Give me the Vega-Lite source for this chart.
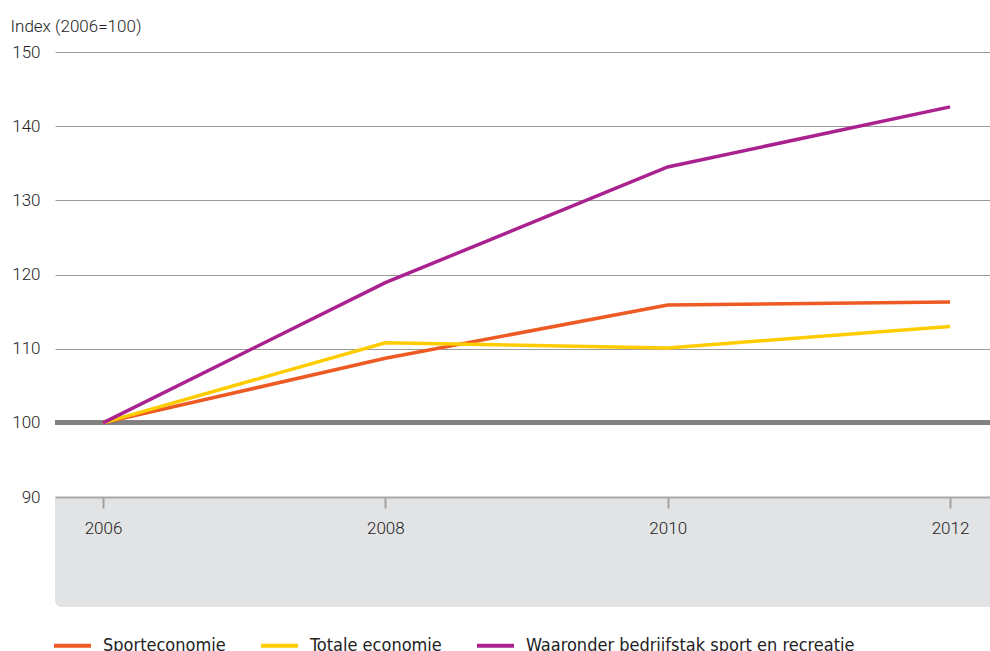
{
  "$schema": "https://vega.github.io/schema/vega-lite/v6.json",
  "width": 935,
  "height": 555,
  "autosize": "none",
  "padding": {"left": 55, "top": 52, "right": 0, "bottom": 44},
  "background": "white",
  "config": {
    "view": {"stroke": null},
    "font": "Roboto"
  },
  "data": {
    "values": [
      {"jaar": 2006, "reeks": "Sporteconomie", "index": 100},
      {"jaar": 2008, "reeks": "Sporteconomie", "index": 108.7},
      {"jaar": 2010, "reeks": "Sporteconomie", "index": 115.9},
      {"jaar": 2012, "reeks": "Sporteconomie", "index": 116.3},
      {"jaar": 2006, "reeks": "Totale economie", "index": 100},
      {"jaar": 2008, "reeks": "Totale economie", "index": 110.8},
      {"jaar": 2010, "reeks": "Totale economie", "index": 110.1},
      {"jaar": 2012, "reeks": "Totale economie", "index": 113.0},
      {"jaar": 2006, "reeks": "Waaronder bedrijfstak sport en recreatie", "index": 100},
      {"jaar": 2008, "reeks": "Waaronder bedrijfstak sport en recreatie", "index": 118.9},
      {"jaar": 2010, "reeks": "Waaronder bedrijfstak sport en recreatie", "index": 134.5},
      {"jaar": 2012, "reeks": "Waaronder bedrijfstak sport en recreatie", "index": 142.6}
    ]
  },
  "layer": [
    {
      "mark": {"type": "rect", "color": "#E2E3E5", "cornerRadiusBottomLeft": 8},
      "encoding": {
        "x": {"datum": 2005.66, "type": "quantitative", "scale": {"domain": [2005.66, 2012.283], "nice": false, "zero": false}},
        "x2": {"datum": 2012.283},
        "y": {"datum": 90, "type": "quantitative", "scale": {"domain": [75.17, 150], "nice": false, "zero": false}},
        "y2": {"datum": 75.17}
      }
    },
    {
      "mark": {"type": "rule", "color": "#808080", "strokeWidth": 4},
      "encoding": {"y": {"datum": 100, "type": "quantitative"}}
    },
    {
      "mark": {"type": "line", "strokeWidth": 3.5, "strokeCap": "butt", "strokeJoin": "miter"},
      "encoding": {
        "x": {
          "field": "jaar",
          "type": "quantitative",
          "axis": {
            "values": [2006, 2008, 2010, 2012],
            "format": "d",
            "title": null,
            "offset": -110,
            "zindex": 1,
            "grid": false,
            "domainColor": "#A8A8A8",
            "domainWidth": 2,
            "tickColor": "#A0A0A0",
            "tickWidth": 2,
            "tickSize": 11,
            "labelPadding": 12,
            "labelFontSize": 17,
            "labelColor": "#222222",
            "labelFont": "Roboto",
            "labelFontWeight": 300
          }
        },
        "y": {
          "field": "index",
          "type": "quantitative",
          "axis": {
            "values": [90, 100, 110, 120, 130, 140, 150],
            "title": "Index (2006=100)",
            "titleAngle": 0,
            "titleAlign": "left",
            "titleBaseline": "alphabetic",
            "titleX": -45,
            "titleY": -21,
            "titleFontSize": 17,
            "titleFontWeight": 300,
            "titleColor": "#222222",
            "titleFont": "Roboto",
            "domain": false,
            "ticks": false,
            "grid": true,
            "gridColor": "#9A9A9A",
            "gridWidth": 1,
            "labelPadding": 15,
            "labelFontSize": 17,
            "labelFontWeight": 300,
            "labelColor": "#222222",
            "labelFont": "Roboto"
          }
        },
        "color": {
          "field": "reeks",
          "type": "nominal",
          "scale": {
            "domain": ["Sporteconomie", "Totale economie", "Waaronder bedrijfstak sport en recreatie"],
            "range": ["#EE5A24", "#FFCC00", "#AA2290"]
          },
          "legend": {
            "title": null,
            "orient": "none",
            "legendX": -3,
            "legendY": 573,
            "direction": "horizontal",
            "symbolType": "stroke",
            "symbolSize": 1369,
            "symbolStrokeWidth": 4,
            "labelFontSize": 18,
            "labelFont": "DejaVu Sans Condensed, Liberation Sans Narrow, Liberation Sans",
            "labelColor": "#222222",
            "labelOffset": 10,
            "labelLimit": 500,
            "columnPadding": 27
          }
        }
      }
    }
  ]
}
